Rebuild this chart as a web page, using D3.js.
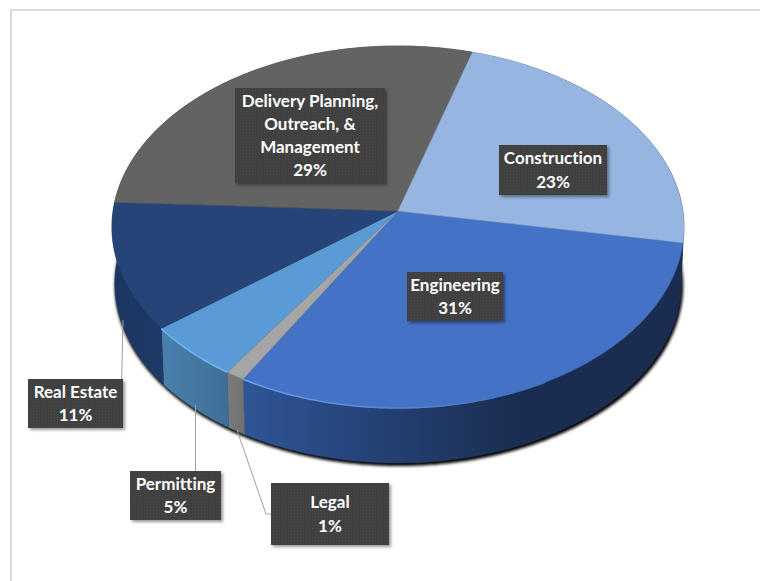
<!DOCTYPE html>
<html>
<head>
<meta charset="utf-8">
<script src="https://cdn.jsdelivr.net/npm/d3@7"></script>
<style>
  html, body { margin: 0; padding: 0; background: #fff; }
  svg { display: block; }
  text { font-family: Lato, "Open Sans", sans-serif; font-weight: 700; font-size: 17px; fill: #fff; text-anchor: middle; font-variant-ligatures: none; }
</style>
</head>
<body>
<svg id="chart" width="760" height="581"></svg>
<script>
const categories = ['Engineering', 'Legal', 'Permitting', 'Real Estate', 'Delivery Planning, Outreach, & Management', 'Construction'];
// the labels round these
const shares = [30.6, 1, 5, 11.4, 28.8, 23.2];
const topColors = ['#4472c4', '#a5a5a5', '#5b9bd5', '#264478', '#636363', '#96b5e0'];
const rimFrom = ['#2f5597', '#7a7a7a', '#4a80ad', '#1c3560', '#333333', '#4a5f80'];
const rimTo = ['#1a2d50', '#727272', '#3f6f98', '#1f3a68', '#333333', '#1a2d50'];
const labelLines = [
  ['Engineering', '31%'],
  ['Legal', '1%'],
  ['Permitting', '5%'],
  ['Real Estate', '11%'],
  ['Delivery Planning,', 'Outreach, &', 'Management', '29%'],
  ['Construction', '23%']
];

const svg = d3.select('#chart');
const defs = svg.append('defs');

const
  cx = 398,
  cy = 211,
  A = 284.9,
  B = 179.6,
  k = -0.0884,     // perspective, the near edge is bigger than the far one
  depth = 57,
  rimScale = 0.99,
  startDeg = 100
  ;

// label boxes, [x, y, w, h], in the order of the categories
const boxes = [
  [407, 272, 96, 49],
  [271, 483, 118, 62],
  [130, 471, 91, 49],
  [28, 379, 95, 49],
  [235, 88, 150, 95],
  [499, 145, 108, 50]
];

const leaders = [
  null,
  [[237, 430], [266, 514], [271, 514]],
  [[195.5, 405], [195.5, 471]],
  [[123, 320], [121.7, 379]],
  null,
  null
];

const shrink = d3.scaleLinear().domain([0, 1]).range([1, rimScale]);
const drop = d3.scaleLinear().domain([0, 1]).range([0, depth]);

// a = d3 style angle, 0 at twelve o'clock, clockwise. z = 0 top face, 1 bottom face
const project = (a, z) => {
  let
    u = Math.sin(a),
    v = -Math.cos(a),
    w = 1 + k * v,
    s = shrink(z)
    ;
  return [cx + s * A * u / w, cy + s * B * v / w + drop(z)];
};

const sample = (a0, a1, z) => {
  let n = Math.max(2, Math.ceil(Math.abs(a1 - a0) / 0.01));
  return d3.range(n + 1).map(i => project(a0 + (a1 - a0) * i / n, z));
};

const line = d3.line();

const slices = d3.pie().sort(null).value(d => d)
  .startAngle(startDeg * Math.PI / 180)
  .endAngle((startDeg + 360) * Math.PI / 180)(shares);

// filters
const blur = (id, std) => defs.append('filter').attr('id', id)
  .attr('x', '-10%').attr('y', '-10%').attr('width', '120%').attr('height', '120%')
  .append('feGaussianBlur').attr('stdDeviation', std);
blur('rimShadow', 1.5);
blur('boxShadow', 1.5);
blur('edgeSoft', 0.6);

const dots = defs.append('pattern').attr('id', 'boxDots')
  .attr('width', 3).attr('height', 3).attr('patternUnits', 'userSpaceOnUse');
dots.append('rect').attr('width', 3).attr('height', 3).attr('fill', '#404040');
dots.append('rect').attr('width', 1).attr('height', 1).attr('fill', '#4b4b4b');

// rim gradients, one per slice, running across the slice's span
slices.forEach((d, i) => {
  let
    xs = sample(d.startAngle, d.endAngle, 0).map(p => p[0]),
    isEng = i === 0,
    g = defs.append('linearGradient').attr('id', `rim${i}`)
      .attr('gradientUnits', 'userSpaceOnUse')
      .attr('x1', isEng ? 242 : d3.min(xs)).attr('x2', isEng ? 520 : d3.max(xs))
      .attr('y1', 0).attr('y2', 0)
    ;
  g.append('stop').attr('offset', 0).attr('stop-color', rimFrom[i]);
  g.append('stop').attr('offset', 1).attr('stop-color', rimTo[i]);
});
const edgeGrad = defs.append('linearGradient').attr('id', 'edgeEng')
  .attr('gradientUnits', 'userSpaceOnUse').attr('x1', 242).attr('x2', 520).attr('y1', 0).attr('y2', 0);
edgeGrad.append('stop').attr('offset', 0).attr('stop-color', '#6f9fee');
edgeGrad.append('stop').attr('offset', 1).attr('stop-color', '#4472c4');

// chart frame, only top and left show
svg.append('path')
  .attr('d', line([[11, 581], [11, 10], [760, 10]]))
  .attr('fill', 'none').attr('stroke', '#d9d9d9').attr('stroke-width', 2);

// drop shadow below the rim
svg.append('path')
  .attr('d', line(sample(0, 2 * Math.PI, 1)) + 'Z')
  .attr('transform', 'translate(1,2)')
  .attr('fill', '#000')
  .attr('stroke', '#000')
  .attr('stroke-width', 2)
  .attr('filter', 'url(#rimShadow)');

// rim
svg.append('g').selectAll('path')
  .data(slices)
  .join('path')
  .attr('d', d => line(sample(d.startAngle, d.endAngle, 0).concat(sample(d.endAngle, d.startAngle, 1))) + 'Z')
  .attr('fill', (d, i) => `url(#rim${i})`)
  .attr('stroke', (d, i) => `url(#rim${i})`)
  .attr('stroke-width', 0.5);

// top face
const wedge = d => line([[cx, cy]].concat(sample(d.startAngle, d.endAngle, 0))) + 'Z';
svg.append('g').selectAll('path')
  .data(slices)
  .join('path')
  .attr('d', wedge)
  .attr('fill', (d, i) => topColors[i])
  .attr('stroke', (d, i) => topColors[i])
  .attr('stroke-width', 0.5);

// light bevel on the front edge
const bevel = svg.append('g').attr('fill', 'none').attr('filter', 'url(#edgeSoft)');
bevel.append('path')
  .attr('d', line(sample(slices[0].startAngle + 0.9, slices[0].endAngle, 0)))
  .attr('stroke', 'url(#edgeEng)').attr('stroke-width', 1.5);
bevel.append('path')
  .attr('d', line(sample(slices[2].startAngle, slices[2].endAngle, 0)))
  .attr('stroke', '#6cb6f2').attr('stroke-width', 1.5);

// leader lines
svg.append('g').selectAll('path')
  .data(leaders.filter(d => d))
  .join('path')
  .attr('d', d => line(d))
  .attr('fill', 'none')
  .attr('stroke', '#a0a0a0')
  .attr('stroke-width', 1);

// data labels
const labels = svg.append('g').selectAll('g')
  .data(categories)
  .join('g')
  .attr('class', 'label');

labels.append('rect')
  .attr('x', (d, i) => boxes[i][0] + 2).attr('y', (d, i) => boxes[i][1] + 2)
  .attr('width', (d, i) => boxes[i][2]).attr('height', (d, i) => boxes[i][3])
  .attr('fill', '#000').attr('fill-opacity', 0.4)
  .attr('filter', 'url(#boxShadow)');

labels.append('rect')
  .attr('x', (d, i) => boxes[i][0]).attr('y', (d, i) => boxes[i][1])
  .attr('width', (d, i) => boxes[i][2]).attr('height', (d, i) => boxes[i][3])
  .attr('fill', 'url(#boxDots)');

labels.each(function(d, i) {
  let
    rows = labelLines[i],
    b = boxes[i],
    lineH = 23.3,
    y0 = b[1] + b[3] / 2 - (rows.length - 1) * lineH / 2 + 6
    ;
  d3.select(this).selectAll('text')
    .data(rows)
    .join('text')
    .attr('x', b[0] + b[2] / 2)
    .attr('y', (r, j) => y0 + j * lineH)
    .text(r => r);
});
</script>
</body>
</html>
